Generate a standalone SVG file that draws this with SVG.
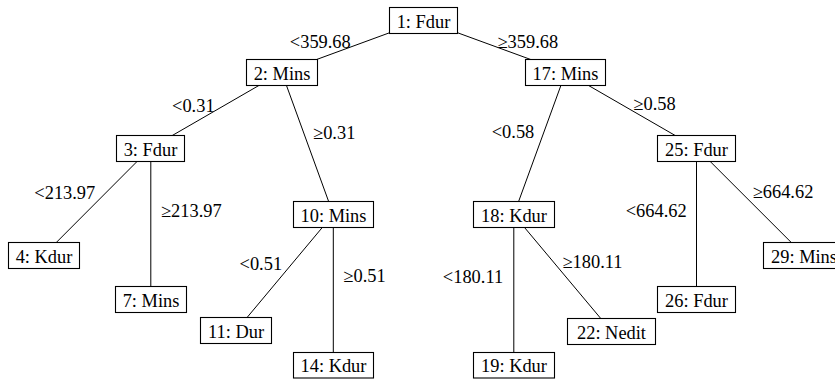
<svg xmlns="http://www.w3.org/2000/svg" width="835" height="379" viewBox="0 0 835 379">
<style>
  rect.n { fill: #fff; stroke: #000; stroke-width: 1.1; }
  text { font-family: 'Liberation Serif', 'Times New Roman', Tinos, 'Nimbus Roman', 'Nimbus Roman No9 L', 'Noto Serif', 'DejaVu Serif', FreeSerif, serif; font-size: 18.4px; fill: #000; text-anchor: middle; }
  line { stroke: #000; stroke-width: 1; }
</style>
<rect width="835" height="379" fill="#fff"/>
<g id="connectors">
  <line x1="423.5" y1="20.3" x2="281.7" y2="72.3"/>
  <line x1="423.5" y1="20.3" x2="565.7" y2="72.3"/>
  <line x1="281.7" y1="72.3" x2="150.3" y2="148.2"/>
  <line x1="281.7" y1="72.3" x2="333.3" y2="214.3"/>
  <line x1="150.3" y1="148.2" x2="43.8" y2="255"/>
  <line x1="150.8" y1="148.2" x2="150.8" y2="299.5"/>
  <line x1="333.3" y1="214.3" x2="236.2" y2="330.5"/>
  <line x1="333.3" y1="214.3" x2="333.3" y2="365"/>
  <line x1="565.7" y1="72.3" x2="513.8" y2="214.7"/>
  <line x1="565.7" y1="72.3" x2="696.5" y2="147.8"/>
  <line x1="513.8" y1="214.7" x2="513.8" y2="365"/>
  <line x1="513.8" y1="214.7" x2="611.5" y2="331.3"/>
  <line x1="696.5" y1="147.8" x2="696.5" y2="299.5"/>
  <line x1="696.5" y1="147.8" x2="803.8" y2="255"/>
  <text x="320.3" y="48.3">&lt;359.68</text>
  <text x="527.8" y="48.3">≥359.68</text>
  <text x="193.3" y="111.7">&lt;0.31</text>
  <text x="334.2" y="138.7">≥0.31</text>
  <text x="64.8" y="199">&lt;213.97</text>
  <text x="191.3" y="216.7">≥213.97</text>
  <text x="260.8" y="269.5">&lt;0.51</text>
  <text x="364.5" y="282.3">≥0.51</text>
  <text x="473" y="283.3">&lt;180.11</text>
  <text x="592.5" y="268.3">≥180.11</text>
  <text x="513" y="138.3">&lt;0.58</text>
  <text x="654.5" y="110">≥0.58</text>
  <text x="656.2" y="216.7">&lt;664.62</text>
  <text x="783" y="198.3">≥664.62</text>
</g>
<g id="n1"><rect class="n" x="389.5" y="7.5" width="68" height="26"/><text x="423.5" y="27.5">1: Fdur</text></g>
<g id="n2"><rect class="n" x="246.5" y="59.5" width="71" height="26"/><text x="282" y="79.5">2: Mins</text></g>
<g id="n17"><rect class="n" x="525.5" y="59.5" width="80" height="26"/><text x="565.5" y="79.5">17: Mins</text></g>
<g id="n3"><rect class="n" x="116.5" y="135.5" width="68" height="26"/><text x="150.5" y="155.5">3: Fdur</text></g>
<g id="n10"><rect class="n" x="293.5" y="201.5" width="80" height="26"/><text x="333.5" y="221.5">10: Mins</text></g>
<g id="n18"><rect class="n" x="473.5" y="201.5" width="81" height="26"/><text x="514" y="221.5">18: Kdur</text></g>
<g id="n25"><rect class="n" x="657.5" y="135.5" width="78" height="26"/><text x="696.5" y="155.5">25: Fdur</text></g>
<g id="n4"><rect class="n" x="8.5" y="242.5" width="71" height="26"/><text x="44" y="262.5">4: Kdur</text></g>
<g id="n7"><rect class="n" x="115.5" y="286.5" width="71" height="26"/><text x="151" y="306.5">7: Mins</text></g>
<g id="n11"><rect class="n" x="200.5" y="317.5" width="71" height="26"/><text x="236" y="337.5">11: Dur</text></g>
<g id="n14"><rect class="n" x="293.5" y="352.5" width="80" height="25.5"/><text x="333.5" y="372">14: Kdur</text></g>
<g id="n19"><rect class="n" x="473.5" y="352.5" width="81" height="25.5"/><text x="514" y="372">19: Kdur</text></g>
<g id="n22"><rect class="n" x="567.5" y="318.5" width="88" height="26"/><text x="611.5" y="338.5">22: Nedit</text></g>
<g id="n26"><rect class="n" x="657.5" y="286.5" width="78" height="26"/><text x="696.5" y="306.5">26: Fdur</text></g>
<g id="n29"><rect class="n" x="763.5" y="242.5" width="81" height="26"/><text x="804" y="262.5">29: Mins</text></g>
</svg>
